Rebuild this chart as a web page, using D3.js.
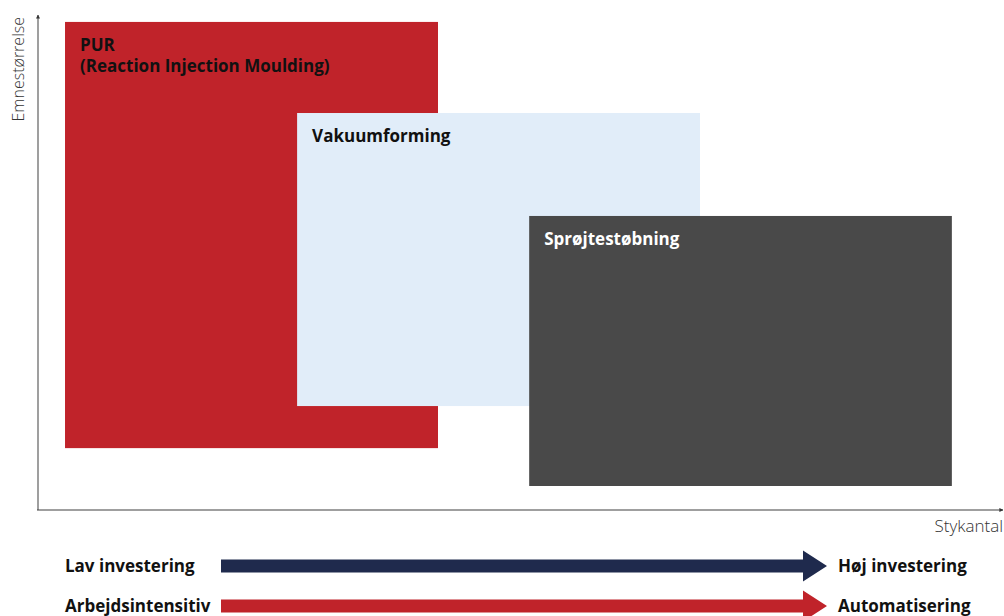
<!DOCTYPE html>
<html>
<head>
<meta charset="utf-8">
<script src="https://cdn.jsdelivr.net/npm/d3@7"></script>
<style>
  body { margin: 0; background: #fff; }
  svg { display: block; }
  text { font-family: "Open Sans", sans-serif; }
</style>
</head>
<body>
<svg id="chart" width="1004" height="616"></svg>
<script>
// processes, drawn back to front
const processes = ['PUR\n(Reaction Injection Moulding)', 'Vakuumforming', 'Sprøjtestøbning'];
const xStart = [2.8, 26.85, 50.9];
const xEnd = [41.45, 68.6, 94.7];
const yStart = [12.5, 21, 4.85];
const yEnd = [98.6, 80.2, 59.4];
const fills = ['#c0232a', '#e1edf9', '#494949'];
const labelColors = ['#111', '#111', '#fff'];

const axisLabels = ['Emnestørrelse', 'Stykantal'];
const scaleFrom = ['Lav investering', 'Arbejdsintensitiv'];
const scaleTo = ['Høj investering', 'Automatisering'];
const scaleColors = ['#1f2a4d', '#c0232a'];

const svg = d3.select('#chart');
const width = 1004;

const x = d3.scaleLinear().domain([0, 100]).range([38, 1003]);
const y = d3.scaleLinear().domain([0, 100]).range([510, 15]);

const defs = svg.append('defs');
defs.append('marker')
  .attr('id', 'tip')
  .attr('viewBox', '0 0 10 10')
  .attr('refX', 9).attr('refY', 5)
  .attr('markerWidth', 4).attr('markerHeight', 4)
  .attr('markerUnits', 'userSpaceOnUse')
  .attr('orient', 'auto')
  .append('path').attr('d', 'M0,0L10,5L0,10Z').attr('fill', '#333');

// rectangles
const g = svg.append('g');
const boxes = g.selectAll('g.box')
  .data(processes.map((p, i) => ({ name: p, i })))
  .join('g').attr('class', 'box');

boxes.append('rect')
  .attr('x', d => x(xStart[d.i]))
  .attr('y', d => y(yEnd[d.i]))
  .attr('width', d => x(xEnd[d.i]) - x(xStart[d.i]))
  .attr('height', d => y(yStart[d.i]) - y(yEnd[d.i]))
  .attr('fill', d => fills[d.i]);

boxes.append('text')
  .attr('x', d => x(xStart[d.i]) + 15)
  .attr('y', d => y(yEnd[d.i]) + 29)
  .attr('fill', d => labelColors[d.i])
  .attr('font-size', 17)
  .attr('font-weight', 700)
  .selectAll('tspan')
  .data(d => d.name.split('\n'))
  .join('tspan')
  .attr('x', function () { return d3.select(this.parentNode).attr('x'); })
  .attr('dy', (d, i) => i ? 21.5 : 0)
  .text(d => d);

// axes
const yAxis = svg.append('g')
  .attr('transform', `translate(${x(0)},0)`)
  .call(d3.axisLeft(y).tickValues([]).tickSizeOuter(0));
yAxis.select('.domain')
  .attr('stroke', '#7f7f7f').attr('stroke-width', 1.5)
  .attr('d', `M0,${y(0)}V${y(100)}`)
  .attr('marker-end', 'url(#tip)');

const xAxis = svg.append('g')
  .attr('transform', `translate(0,${y(0)})`)
  .call(d3.axisBottom(x).tickValues([]).tickSizeOuter(0));
xAxis.select('.domain')
  .attr('stroke', '#404040').attr('stroke-width', 1.2)
  .attr('d', `M${x(0) - 1},0H${x(100)}`)
  .attr('marker-end', 'url(#tip)');

svg.append('text')
  .attr('transform', `translate(24,${y(100) + 2}) rotate(-90)`)
  .attr('text-anchor', 'end')
  .attr('font-size', 16)
  .attr('font-weight', 300)
  .attr('fill', '#333')
  .text(axisLabels[0]);

svg.append('text')
  .attr('x', width - 1)
  .attr('y', 532)
  .attr('text-anchor', 'end')
  .attr('font-size', 17)
  .attr('font-weight', 300)
  .attr('fill', '#333')
  .text(axisLabels[1]);

// investment / automation scales
const band = d3.scaleBand().domain(scaleFrom).range([546, 626]).paddingInner(0);
const arrowX0 = 221, arrowShaft = 803, arrowTip = 827;

const rows = svg.append('g').selectAll('g.row')
  .data(scaleFrom.map((s, i) => ({ from: s, to: scaleTo[i], color: scaleColors[i] })))
  .join('g')
  .attr('class', 'row')
  .attr('transform', d => `translate(0,${band(d.from) + band.bandwidth() / 2})`);

rows.append('path')
  .attr('fill', d => d.color)
  .attr('d', `M${arrowX0},-6.5H${arrowShaft}V-15.5L${arrowTip},0L${arrowShaft},15.5V6.5H${arrowX0}Z`);

rows.append('text')
  .attr('x', 65).attr('y', 0).attr('dy', '0.35em')
  .attr('font-size', 17).attr('font-weight', 700).attr('fill', '#111')
  .text(d => d.from);

rows.append('text')
  .attr('x', 838).attr('y', 0).attr('dy', '0.35em')
  .attr('font-size', 17).attr('font-weight', 700).attr('fill', '#111')
  .text(d => d.to);
</script>
</body>
</html>
